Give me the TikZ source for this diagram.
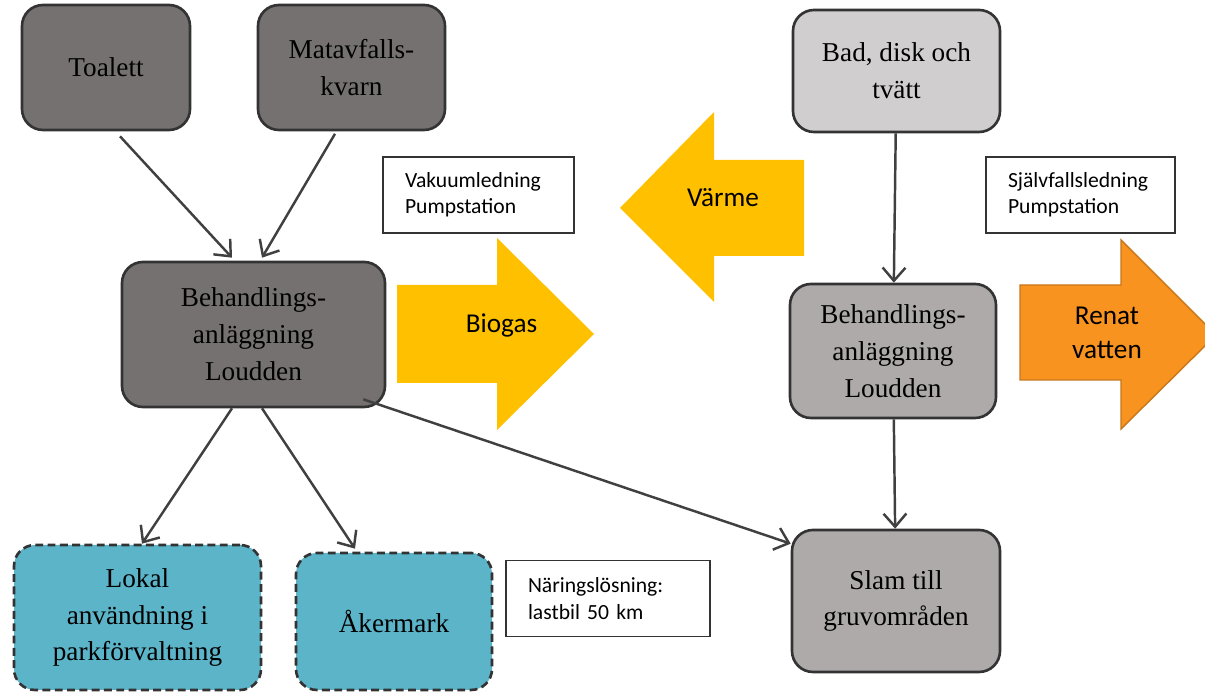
\documentclass[tikz,border=0pt]{standalone}
\usepackage{fontspec}
\setmainfont{Liberation Serif}
\newfontfamily\calibri{Carlito}
\usetikzlibrary{arrows.meta, calc}
\definecolor{darkgrey}{HTML}{767171}
\definecolor{midgrey}{HTML}{AEAAAA}
\definecolor{lightgrey}{HTML}{D0CECE}
\definecolor{fieldteal}{HTML}{5CB4C9}
\definecolor{boxline}{HTML}{333333}
\definecolor{linkline}{HTML}{404040}
\definecolor{gasyellow}{HTML}{FFC000}
\definecolor{waterorange}{HTML}{F7931E}
\definecolor{wateredge}{HTML}{C8771A}

\begin{document}
\begin{tikzpicture}[
        box/.style={draw=boxline, line width=1.5pt, rounded corners=0.42cm, align=center, font=\fontsize{15.5}{21}\selectfont, inner sep=2pt},
        usebox/.style={box, fill=fieldteal, dashed, dash pattern=on 4.5pt off 2.5pt},
        note/.style={draw=boxline, line width=0.8pt, fill=white, align=left, font=\calibri\fontsize{12.3}{15}\selectfont, inner xsep=0.44cm, inner ysep=0pt, minimum height=1.52cm},
        flowtext/.style={font=\calibri\fontsize{15.5}{19}\selectfont, align=center},
        link/.style={-{Straight Barb[length=7.5pt,width=13pt,line width=1.4pt]}, line width=1.4pt, linkline}
    ]
        \useasboundingbox (0,0) rectangle (24.1,-13.84);

        % block arrows
        \fill[gasyellow] (7.94,-5.70) -- (9.94,-5.70) -- (9.94,-4.76) -- (11.88,-6.68) -- (9.94,-8.60) -- (9.94,-7.66) -- (7.94,-7.66) -- cycle;
        \fill[gasyellow] (16.08,-3.20) -- (14.28,-3.20) -- (14.28,-2.24) -- (12.40,-4.16) -- (14.28,-6.04) -- (14.28,-5.12) -- (16.08,-5.12) -- cycle;
        \filldraw[fill=waterorange, draw=wateredge, line width=0.8pt] (20.40,-5.70) -- (22.42,-5.70) -- (22.42,-4.80) -- (24.32,-6.70) -- (22.42,-8.58) -- (22.42,-7.60) -- (20.40,-7.60) -- cycle;
        \node (biogas) [flowtext] at (10.03,-6.50) {Biogas};
        \node (varme) [flowtext] at (14.46,-3.96) {Värme};
        \node (renat) [flowtext] at (22.14,-6.66) {Renat\\vatten};

        % sources
        \node (toalett) [box, fill=darkgrey, minimum width=3.36cm, minimum height=2.5cm] at (2.12,-1.35) {Toalett};
        \node (kvarn) [box, fill=darkgrey, minimum width=3.74cm, minimum height=2.5cm] at (7.03,-1.35) {Matavfalls-\\kvarn};
        \node (bad) [box, fill=lightgrey, minimum width=4.14cm, minimum height=2.44cm] at (17.93,-1.42) {Bad, disk och\\tvätt};

        % treatment plants
        \node (lbeh) [box, fill=darkgrey, minimum width=5.26cm, minimum height=2.9cm] at (5.07,-6.69) {Behandlings-\\anläggning\\Loudden};
        \node (rbeh) [box, fill=midgrey, minimum width=4.12cm, minimum height=2.68cm] at (17.86,-7.02) {Behandlings-\\anläggning\\Loudden};

        % end uses
        \node (lokal) [usebox, minimum width=4.94cm, minimum height=2.9cm] at (2.75,-12.35) {Lokal\\användning i\\parkförvaltning};
        \node (aker) [usebox, minimum width=3.92cm, minimum height=2.74cm] at (7.88,-12.43) {Åkermark};
        \node (slam) [box, fill=midgrey, minimum width=4.16cm, minimum height=2.84cm] at (17.92,-12.02) {Slam till\\gruvområden};

        % notes
        \node (vakuum) [note, text width=2.94cm] at (9.57,-3.90) {Vakuumledning\\Pumpstation};
        \node (sjalv) [note, text width=2.90cm] at (21.61,-3.90) {Självfallsledning\\Pumpstation};
        \node (naring) [note, text width=3.20cm] at (12.16,-11.97) {Näringslösning:\\lastbil 50 km};

        \draw [link] ($(toalett.south)+(0.28,-0.1)$) -- ($(lbeh.north)+(-0.43,0.06)$);
        \draw [link] ($(kvarn.south)+(-0.33,-0.05)$) -- ($(lbeh.north)+(0.17,0.06)$);
        \draw [link] (bad) -- (rbeh);
        \draw [link] ($(lbeh.south)+(-0.43,0)$) -- ($(lokal.north)+(0.09,0)$);
        \draw [link] ($(lbeh.south)+(0.17,0)$) -- ($(aker.north)+(-0.78,0.06)$);
        \draw [link] ($(lbeh.south east)+(-0.46,0.18)$) -- ($(slam.north west)+(0,-0.30)$);
        \draw [link] (rbeh) -- (slam);
    \end{tikzpicture}
\end{document}
